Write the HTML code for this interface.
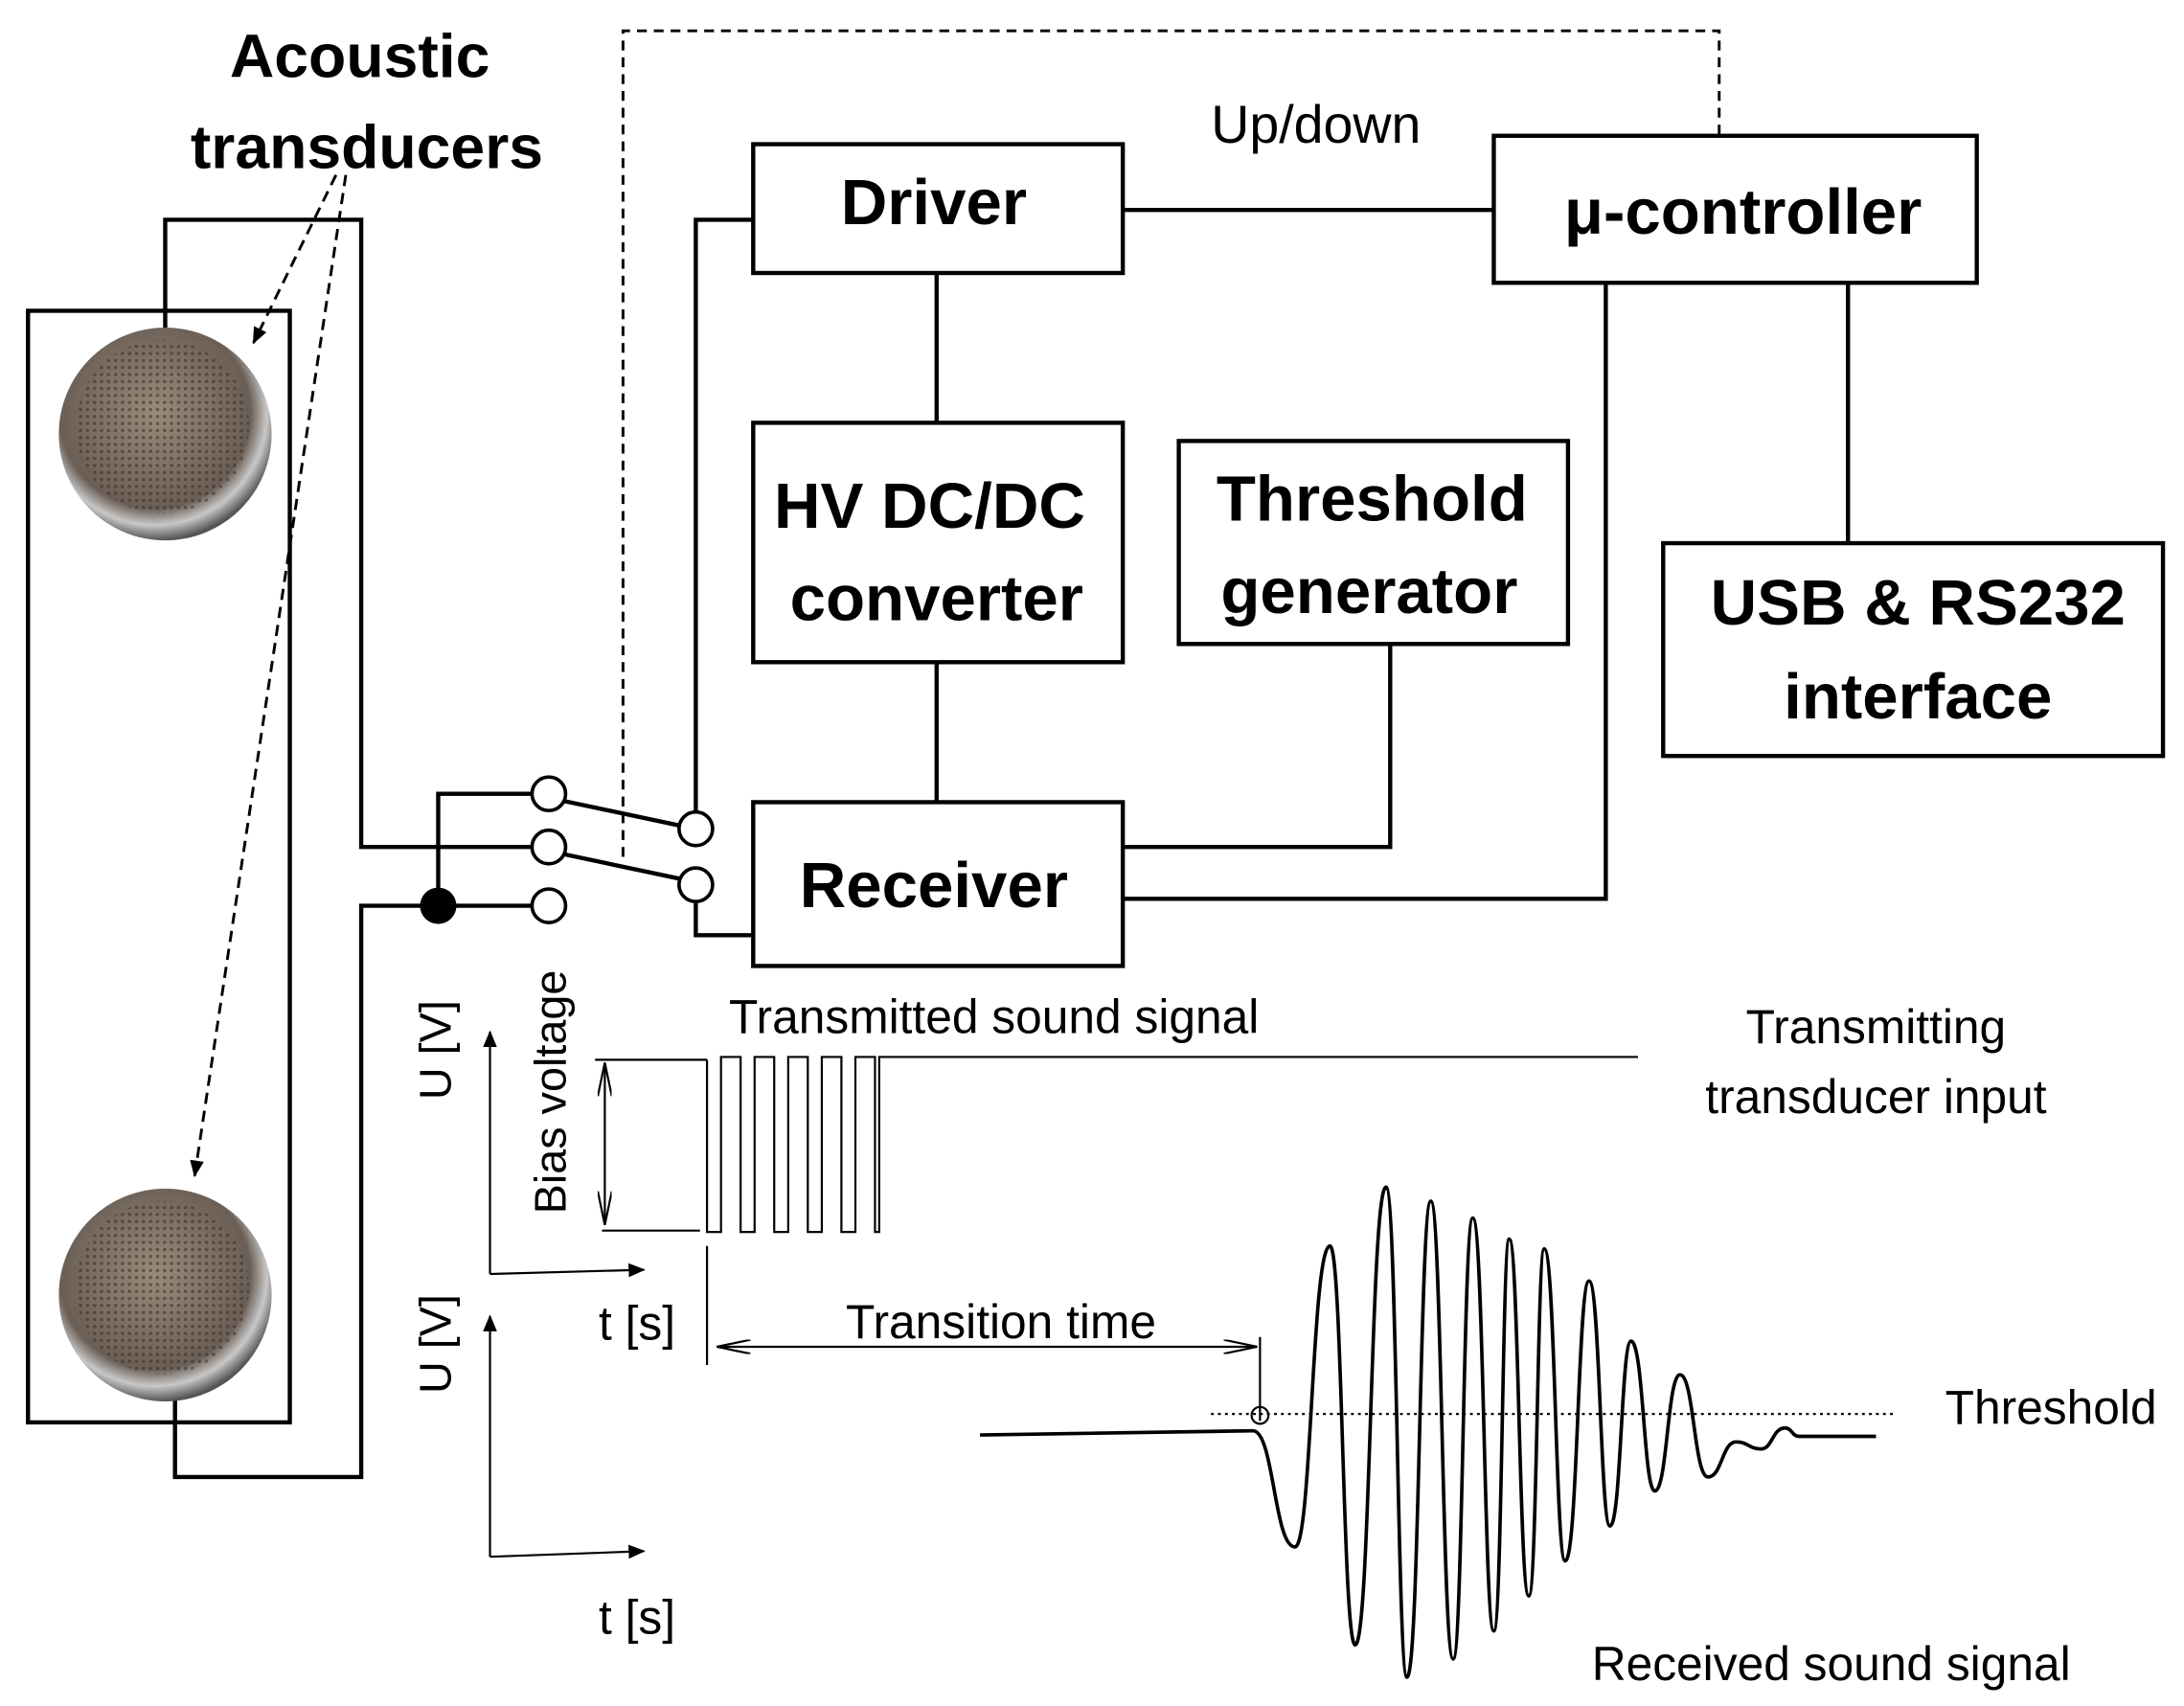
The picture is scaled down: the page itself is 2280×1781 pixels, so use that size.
<!DOCTYPE html>
<html><head><meta charset="utf-8"><style>
html,body{margin:0;padding:0;background:#fff;width:2280px;height:1781px;overflow:hidden}
svg{display:block}
text{font-family:"Liberation Sans",sans-serif;font-weight:bold;fill:#000}
</style></head><body>
<svg width="2280" height="1781" viewBox="0 0 1560 1218.6" xmlns="http://www.w3.org/2000/svg">
<defs>
<radialGradient id="rg" cx="0.45" cy="0.4" r="0.6">
<stop offset="0" stop-color="#9a8a7a"/><stop offset="0.75" stop-color="#6a5e55"/><stop offset="0.88" stop-color="#c8c8c8"/><stop offset="1" stop-color="#555"/>
</radialGradient>
<pattern id="mesh" width="5" height="5" patternUnits="userSpaceOnUse">
<circle cx="2.5" cy="2.5" r="1.2" fill="#3a302a" opacity="0.6"/>
</pattern>
<marker id="ah" markerWidth="12" markerHeight="10" refX="11" refY="5" orient="auto" markerUnits="userSpaceOnUse"><path d="M0,0 L12,5 L0,10 Z" fill="#000"/></marker>
<marker id="ahs" markerWidth="26" markerHeight="10" refX="24" refY="5" orient="auto-start-reverse" markerUnits="userSpaceOnUse"><path d="M0,0 L24,5 L0,10" fill="none" stroke="#000" stroke-width="1.5"/></marker>
</defs>

<text x="257" y="55" font-size="44" text-anchor="middle">Acoustic</text>
<text x="262" y="120" font-size="44" text-anchor="middle">transducers</text>

<g stroke="#000" stroke-width="3" fill="none">
<rect x="20" y="222" width="187" height="794"/>
<polyline points="118,245 118,157 258,157 258,605 380,605"/>
<polyline points="125,1000 125,1055 258,1055 258,647 380,647"/>
<polyline points="313,647 313,567 380,567"/>
<polyline points="497,580 497,157 538,157"/>
<polyline points="497,645 497,668 538,668"/>
<line x1="802" y1="150" x2="1067" y2="150"/>
<line x1="669" y1="195" x2="669" y2="302"/>
<line x1="669" y1="473" x2="669" y2="573"/>
<polyline points="993,460 993,605 802,605"/>
<polyline points="1147,202 1147,642 802,642"/>
<line x1="1320" y1="202" x2="1320" y2="388"/>
<line x1="402" y1="572" x2="487" y2="590"/>
<line x1="402" y1="610" x2="487" y2="628"/>
<rect x="538" y="103" width="264" height="92"/>
<rect x="1067" y="97" width="345" height="105"/>
<rect x="538" y="302" width="264" height="171"/>
<rect x="842" y="315" width="278" height="145"/>
<rect x="538" y="573" width="264" height="117"/>
<rect x="1188" y="388" width="357" height="152"/>
</g>
<g stroke="#000" stroke-width="2.5" fill="#fff">
<circle cx="392" cy="567" r="12"/><circle cx="392" cy="605" r="12"/><circle cx="392" cy="647" r="12"/>
<circle cx="497" cy="592" r="12"/><circle cx="497" cy="632" r="12"/>
</g>
<circle cx="313" cy="647" r="13" fill="#000"/>
<polyline points="445,612 445,22 1228,22 1228,97" fill="none" stroke="#000" stroke-width="2" stroke-dasharray="7,5"/>
<line x1="240" y1="125" x2="181" y2="245" stroke="#000" stroke-width="2" stroke-dasharray="8,5" marker-end="url(#ah)"/>
<line x1="247" y1="125" x2="139" y2="840" stroke="#000" stroke-width="2" stroke-dasharray="8,5" marker-end="url(#ah)"/>

<g>
<circle cx="118" cy="310" r="76" fill="url(#rg)"/><circle cx="116" cy="305" r="62" fill="url(#mesh)"/>
<circle cx="118" cy="925" r="76" fill="url(#rg)"/><circle cx="116" cy="920" r="62" fill="url(#mesh)"/>
</g>

<text x="667" y="160" font-size="46" text-anchor="middle">Driver</text>
<text x="940" y="102" font-size="38" text-anchor="middle" font-weight="normal" style="font-weight:normal">Up/down</text>
<text x="1245" y="167" font-size="46" text-anchor="middle">μ-controller</text>
<text x="664" y="377" font-size="46" text-anchor="middle">HV DC/DC</text>
<text x="669" y="443" font-size="46" text-anchor="middle">converter</text>
<text x="980" y="372" font-size="46" text-anchor="middle">Threshold</text>
<text x="978" y="438" font-size="46" text-anchor="middle">generator</text>
<text x="667" y="648" font-size="46" text-anchor="middle">Receiver</text>
<text x="1370" y="446" font-size="46" text-anchor="middle">USB &amp; RS232</text>
<text x="1370" y="513" font-size="46" text-anchor="middle">interface</text>

<text transform="translate(404,780) rotate(-90)" font-size="32" text-anchor="middle" style="font-weight:normal">Bias voltage</text>
<text transform="translate(322,750) rotate(-90)" font-size="32" text-anchor="middle" style="font-weight:normal">U [V]</text>
<text transform="translate(322,960) rotate(-90)" font-size="32" text-anchor="middle" style="font-weight:normal">U [V]</text>
<text x="455" y="957" font-size="34" text-anchor="middle" style="font-weight:normal">t [s]</text>
<text x="455" y="1167" font-size="34" text-anchor="middle" style="font-weight:normal">t [s]</text>
<text x="710" y="738" font-size="34" text-anchor="middle" style="font-weight:normal">Transmitted sound signal</text>
<text x="1340" y="745" font-size="34" text-anchor="middle" style="font-weight:normal">Transmitting</text>
<text x="1340" y="795" font-size="34" text-anchor="middle" style="font-weight:normal">transducer input</text>
<text x="715" y="956" font-size="34" text-anchor="middle" style="font-weight:normal">Transition time</text>
<text x="1465" y="1017" font-size="34" text-anchor="middle" style="font-weight:normal">Threshold</text>
<text x="1308" y="1200" font-size="34" text-anchor="middle" style="font-weight:normal">Received sound signal</text>

<g stroke="#000" stroke-width="1.5" fill="none">
<polyline points="350,910 350,737" marker-end="url(#ah)"/>
<polyline points="350,910 460,907" marker-end="url(#ah)"/>
<polyline points="350,1112 350,940" marker-end="url(#ah)"/>
<polyline points="350,1112 460,1108" marker-end="url(#ah)"/>
<line x1="432" y1="759" x2="432" y2="875" marker-start="url(#ahs)" marker-end="url(#ahs)"/>
<line x1="425" y1="757" x2="505" y2="757"/>
<line x1="430" y1="879" x2="500" y2="879"/>
<polyline points="505,757 505,880 515,880 515,755 529,755 529,880 539,880 539,755 553,755 553,880 563,880 563,755 577,755 577,880 587,880 587,755 601,755 601,880 611,880 611,755 625,755 625,880 628,880 628,755 1170,755"/>
<line x1="505" y1="890" x2="505" y2="975"/>
<line x1="900" y1="955" x2="900" y2="1015"/>
<line x1="512" y1="962" x2="898" y2="962" marker-start="url(#ahs)" marker-end="url(#ahs)"/>
<line x1="865" y1="1010" x2="1355" y2="1010" stroke-dasharray="2,3"/>
<circle cx="900" cy="1011" r="6"/>
<path stroke-width="2.5" d="M700 1025 L895 1022 C910 1022 910 1105 925 1105 C937 1105 937 890 950 890 C959 890 959 1175 968 1175 C979 1175 979 848 990 848 C998 848 998 1198 1005 1198 C1014 1198 1014 858 1022 858 C1030 858 1030 1185 1038 1185 C1045 1185 1045 870 1052 870 C1060 870 1060 1165 1067 1165 C1073 1165 1073 885 1078 885 C1085 885 1085 1140 1092 1140 C1098 1140 1098 892 1103 892 C1111 892 1111 1115 1118 1115 C1127 1115 1127 915 1135 915 C1143 915 1143 1090 1150 1090 C1158 1090 1158 958 1165 958 C1174 958 1174 1065 1182 1065 C1191 1065 1191 982 1200 982 C1210 982 1210 1055 1220 1055 C1230 1055 1230 1030 1240 1030 C1249 1030 1249 1035 1258 1035 C1266 1035 1266 1020 1275 1020 C1280 1020 1280 1026 1285 1026 L1340 1026"/>
</g>
</svg>
</body></html>
